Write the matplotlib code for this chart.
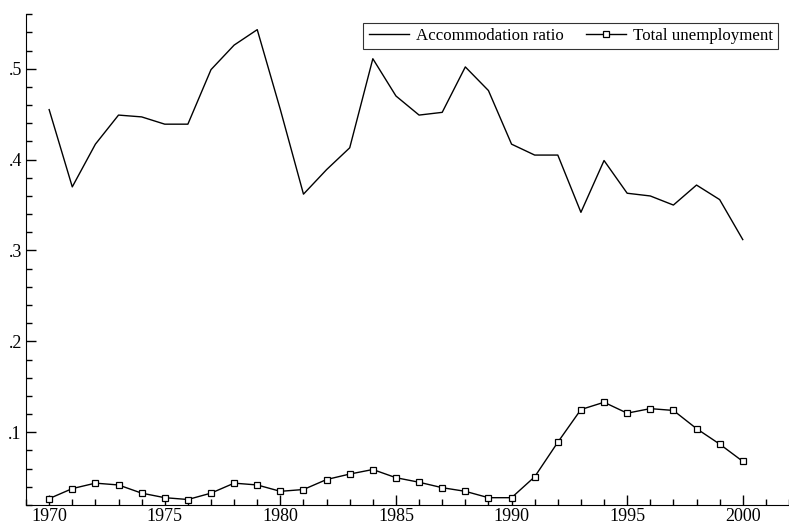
import matplotlib
matplotlib.use("Agg")

import matplotlib.pyplot as plt
from matplotlib.ticker import MultipleLocator, FuncFormatter

years = list(range(1970, 2001))
accommodation = [0.455, 0.370, 0.417, 0.449, 0.447, 0.439, 0.439, 0.499, 0.526, 0.543,
                 0.455, 0.362, 0.389, 0.413, 0.511, 0.470, 0.449, 0.452, 0.502, 0.476,
                 0.417, 0.405, 0.405, 0.342, 0.399, 0.363, 0.360, 0.350, 0.372, 0.356,
                 0.312]
unemployment = [0.027, 0.038, 0.044, 0.042, 0.033, 0.028, 0.026, 0.033, 0.044, 0.042,
                0.035, 0.037, 0.048, 0.054, 0.059, 0.050, 0.045, 0.039, 0.035, 0.028,
                0.028, 0.051, 0.089, 0.125, 0.133, 0.121, 0.126, 0.124, 0.104, 0.087,
                0.068]

plt.rcParams['font.family'] = ['Liberation Serif', 'DejaVu Serif']

fig = plt.figure(figsize=(7.89, 5.26), dpi=100)
ax = fig.add_axes([0.033, 0.04, 0.967, 0.933])

ax.plot(years, accommodation, color='black', lw=1.0, label='Accommodation ratio')
ax.plot(years, unemployment, color='black', lw=1.0, marker='s', markersize=4.5,
        markerfacecolor='white', markeredgecolor='black', markeredgewidth=0.9,
        label='Total unemployment')

ax.set_xlim(1969, 2002)
ax.set_ylim(0.02, 0.56)

ax.spines['top'].set_visible(False)
ax.spines['right'].set_visible(False)

ax.xaxis.set_major_locator(MultipleLocator(5))
ax.xaxis.set_minor_locator(MultipleLocator(1))
ax.yaxis.set_major_locator(MultipleLocator(0.1))
ax.yaxis.set_minor_locator(MultipleLocator(0.02))
ax.yaxis.set_major_formatter(FuncFormatter(lambda v, p: ('%.1f' % v).lstrip('0')))

ax.tick_params(which='both', direction='in', labelsize=13)
ax.tick_params(which='major', length=7, width=1)
ax.tick_params(which='minor', length=4.5, width=1)
ax.tick_params(axis='x', pad=2)
ax.tick_params(axis='y', pad=3)

leg = ax.legend(loc='upper right', ncol=2, fontsize=12.2, frameon=True, fancybox=False,
                edgecolor='black', handlelength=2.4, columnspacing=1.3,
                borderpad=0.3, handletextpad=0.4, borderaxespad=0,
                bbox_to_anchor=(0.986, 0.982))
leg.get_frame().set_linewidth(0.8)

plt.savefig("out.png", dpi=100)
